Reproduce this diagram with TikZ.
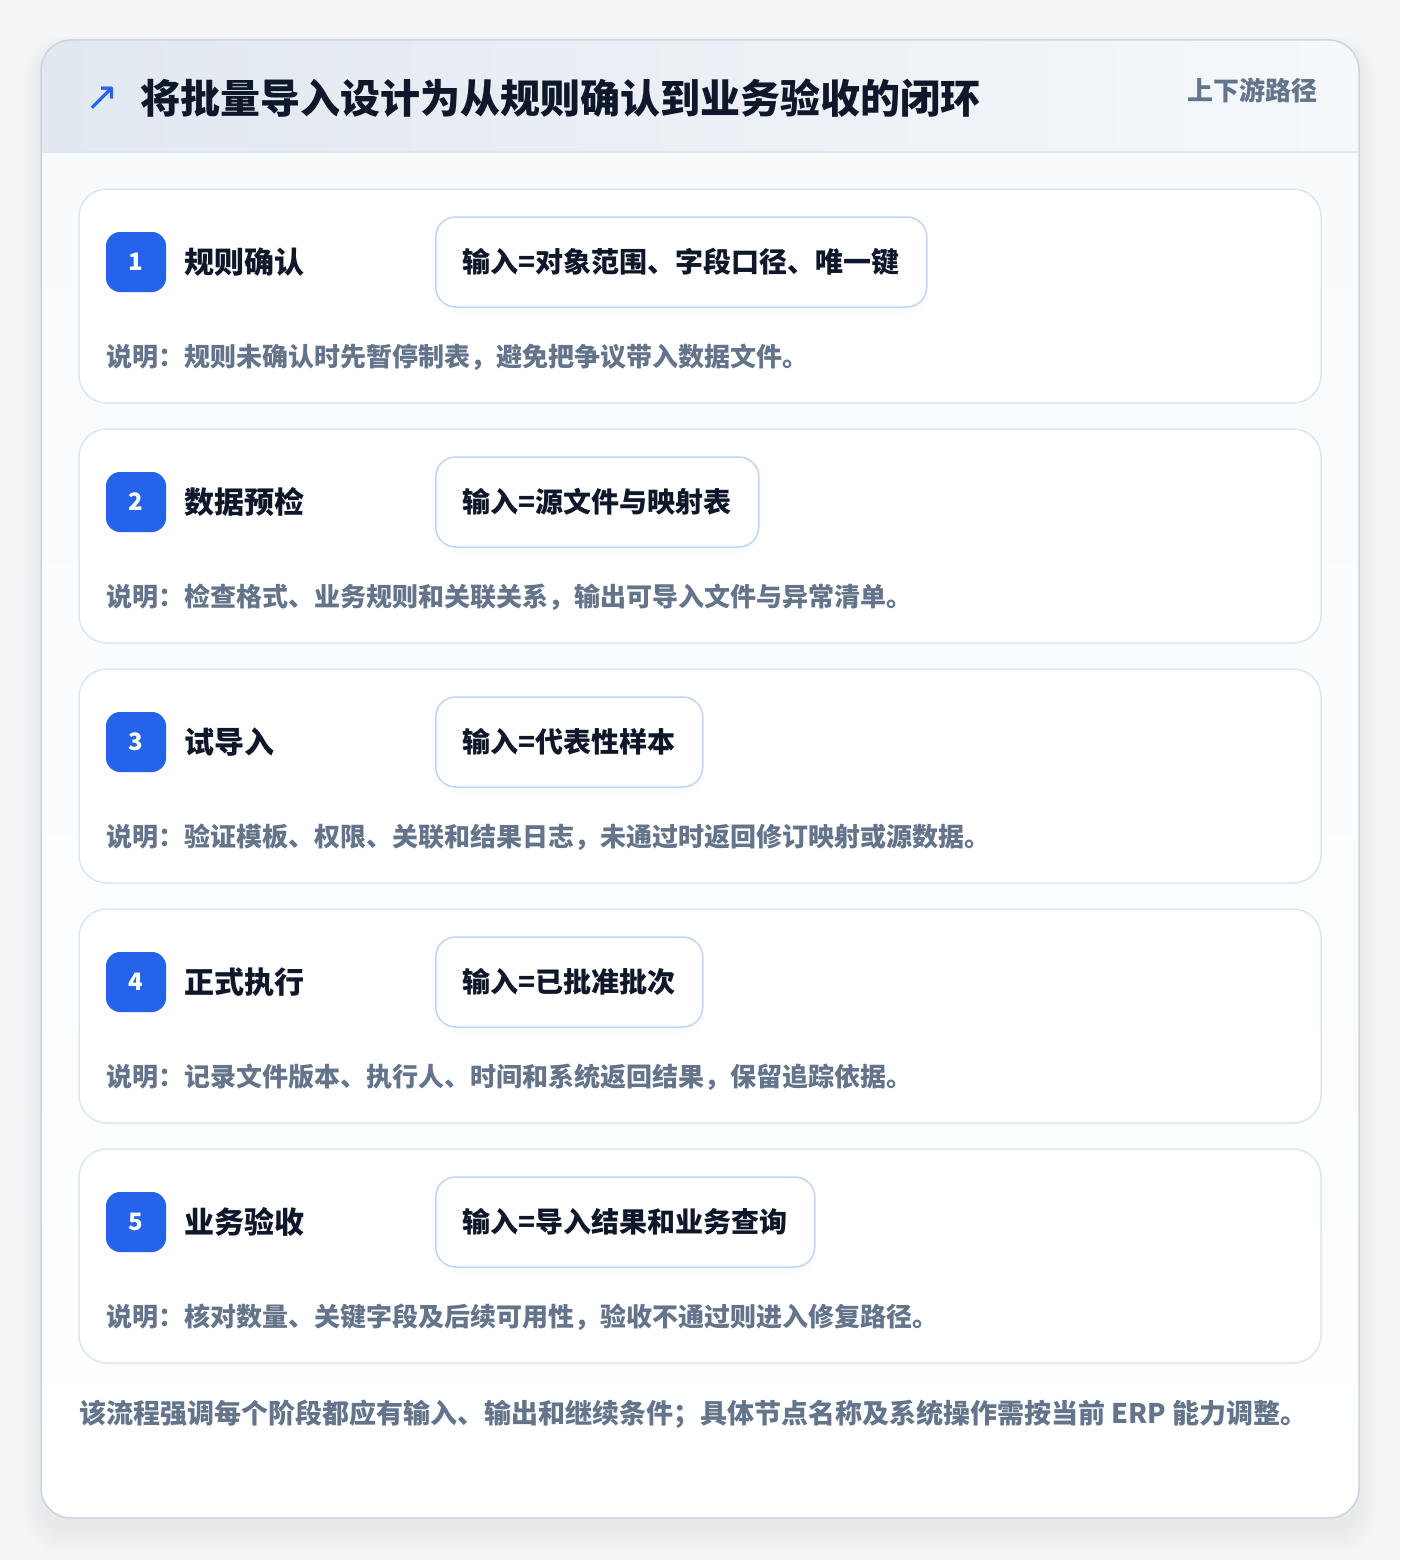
\documentclass[tikz,border=0pt]{standalone}
\usepackage{fontspec}
\setmainfont{Noto Sans CJK SC}
\newfontfamily\symfont{DejaVu Sans}
\usetikzlibrary{positioning,shadows}
\definecolor{pagebg}{HTML}{F4F5F7}
\definecolor{accent}{HTML}{2563EB}
\definecolor{ink}{HTML}{0F172A}
\definecolor{muted}{HTML}{64748B}
\definecolor{cardline}{HTML}{DBE7F7}
\definecolor{inputline}{HTML}{BFD6F6}
\definecolor{frameline}{HTML}{CBD5E1}
\definecolor{headA}{HTML}{E2E8F0}
\definecolor{headB}{HTML}{F5F8FB}
\definecolor{bodyA}{HTML}{F8FAFC}
\tikzset{
  stepcard/.style={draw=cardline, line width=1.5pt, fill=white, rounded corners=28pt,
    minimum width=1242pt, minimum height=214pt},
  badge/.style={fill=accent, rounded corners=14pt, minimum size=60pt, inner sep=0pt,
    text=white, font=\bfseries\fontsize{24}{24}\selectfont},
  steptitle/.style={inner sep=0pt, text=ink, font=\bfseries\fontsize{30}{30}\selectfont},
  inputbox/.style={anchor=west, draw=inputline, line width=1.5pt, fill=white,
    rounded corners=20pt, minimum height=90pt, inner xsep=27pt, text=ink,
    font=\bfseries\fontsize{28}{28}\selectfont,
    drop shadow={opacity=0.03, shadow xshift=0pt, shadow yshift=-6pt}},
  notetext/.style={anchor=west, inner sep=0pt, text=muted, font=\bfseries\fontsize{26}{26}\selectfont},
}
\begin{document}
\begin{tikzpicture}[x=1pt, y=-1pt]
\fill[pagebg] (0,0) rectangle (1400,1560);
\useasboundingbox (0,0) rectangle (1400,1560);
% soft shadow under the frame
\foreach \k in {1,...,12}
  \fill[black, opacity=0.005, rounded corners=30pt+\k pt] (41-\k*1.5,48-\k) rectangle (1359+\k*1.5,1530+\k*2);
% frame with header band
\begin{scope}
  \clip[rounded corners=30pt] (41,40) rectangle (1359,1518);
  \fill[top color=bodyA, bottom color=white] (41,152) rectangle (1359,1518);
  \fill[left color=headA, right color=headB] (41,40) rectangle (1359,152);
\end{scope}
\draw[cardline, line width=1.5pt] (41,152) -- (1359,152);
\draw[frameline, line width=1.5pt, rounded corners=30pt] (41,40) rectangle (1359,1518);
\node[text=accent, font=\symfont\fontsize{40}{40}\selectfont] (icon) at (102,99) {↗};
\node[anchor=west, inner sep=0pt, text=ink, font=\bfseries\fontsize{40}{40}\selectfont] (title) at (140,98)
  {将批量导入设计为从规则确认到业务验收的闭环};
\node[anchor=east, inner sep=0pt, text=muted, font=\bfseries\fontsize{26}{26}\selectfont] (route) at (1318,90) {上下游路径};
% five stages
\foreach \i/\name/\inp/\desc in {
  1/规则确认/{输入=对象范围、字段口径、唯一键}/{说明：规则未确认时先暂停制表，避免把争议带入数据文件。},
  2/数据预检/{输入=源文件与映射表}/{说明：检查格式、业务规则和关联关系，输出可导入文件与异常清单。},
  3/试导入/{输入=代表性样本}/{说明：验证模板、权限、关联和结果日志，未通过时返回修订映射或源数据。},
  4/正式执行/{输入=已批准批次}/{说明：记录文件版本、执行人、时间和系统返回结果，保留追踪依据。},
  5/业务验收/{输入=导入结果和业务查询}/{说明：核对数量、关键字段及后续可用性，验收不通过则进入修复路径。}}{
  \pgfmathsetmacro\yc{296+240*(\i-1)}
  \node[stepcard] (card\i) at (700,\yc) {};
  \node[badge] (badge\i) at (136,\yc-34) {\i};
  \node[steptitle, right=18pt of badge\i] (title\i) {\name};
  \node[inputbox] (input\i) at (435,\yc-34) {\inp};
  \node[notetext] (desc\i) at (106,\yc+61) {\desc};
}
\node[notetext, font=\bfseries\fontsize{27}{27}\selectfont] (footer) at (79,1414)
  {该流程强调每个阶段都应有输入、输出和继续条件；具体节点名称及系统操作需按当前 ERP 能力调整。};
\end{tikzpicture}
\end{document}
